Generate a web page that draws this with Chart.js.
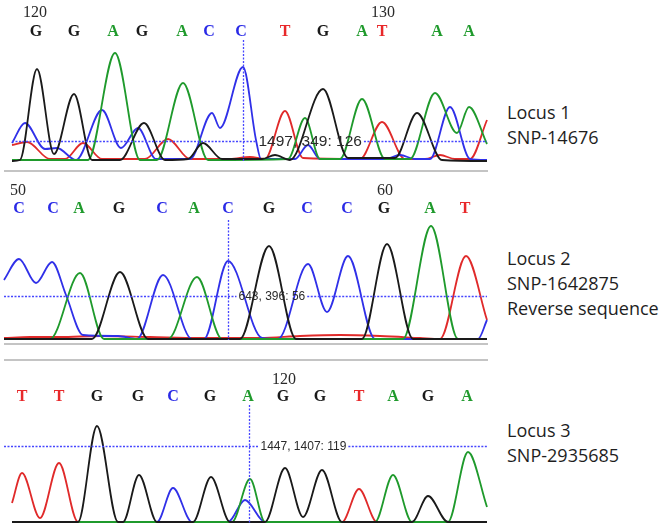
<!DOCTYPE html>
<html><head><meta charset="utf-8">
<script src="https://cdn.jsdelivr.net/npm/chart.js@4/dist/chart.umd.min.js"></script>
<style>
html,body{margin:0;padding:0;background:#fff;}
body{width:661px;height:526px;position:relative;overflow:hidden;}
.pane{position:absolute;left:0;width:490px;}
.sep{position:absolute;left:4px;width:484px;height:2px;background:#c4c4c4;}
.lbl{position:absolute;left:507px;font-family:"Open Sans",sans-serif;font-size:18px;line-height:25px;color:#1e1e1e;white-space:nowrap;}
</style></head>
<body>
<div class="sep" style="top:170px"></div>
<div class="sep" style="top:343px"></div>
<div class="sep" style="top:359px"></div>
<div class="pane" style="top:0;height:170px"><canvas id="c1"></canvas></div>
<div class="pane" style="top:170px;height:178px"><canvas id="c2"></canvas></div>
<div class="pane" style="top:350px;height:176px"><canvas id="c3"></canvas></div>
<div class="lbl" style="top:100px">Locus 1<br>SNP-14676</div>
<div class="lbl" style="top:246px">Locus 2<br>SNP-1642875<br>Reverse sequence</div>
<div class="lbl" style="top:418px">Locus 3<br>SNP-2935685</div>
<script>
// ---------- Locus 1 ----------
const p1Bases = ['G','G','A','G','A','C','C','T','G','A','T','A','A'];
const p1BasePos = [36,74,113,142,182,209,241,285,323,362,382,437,469];
const p1Numbers = ['120','130'];
const p1NumberPos = [35,383];
const p1Black = [[12,1],[20,2],[37,93],[54,8],[74,68],[92,2],[120,2],[144,39],[165,2],[188,3],[203,19],[222,3],[262,3],[275,7],[290,2],[323,73],[348,4],[395,4],[417,49],[442,2],[487,1]];
const p1Green = [[12,2],[88,2],[115,109],[140,2],[157,2],[183,79],[208,2],[288,3],[305,44],[320,3],[340,3],[362,63],[385,3],[410,3],[435,69],[457,29],[469,55],[487,18]];
const p1Blue = [[12,19],[25,39],[45,13],[57,14],[76,2],[102,52],[121,14],[138,34],[156,3],[190,3],[212,49],[220,34],[243,95],[256,22],[261,3],[295,3],[308,17],[320,3],[385,3],[400,7],[415,3],[430,3],[450,55],[470,3],[487,2]];
const p1Red = [[12,17],[27,20],[50,3],[65,3],[83,19],[102,3],[145,3],[168,23],[190,3],[230,3],[250,5],[265,3],[285,51],[303,4],[360,3],[382,40],[405,3],[425,3],[440,7],[455,3],[470,3],[487,42]];
const p1Cursor = {x:243, y:21, text:'1497, 349: 126'};

// ---------- Locus 2 ----------
const p2Bases = ['C','C','A','G','C','A','C','G','C','C','G','A','T'];
const p2BasePos = [19,53,79,119,162,194,228,269,307,347,384,430,465];
const p2Numbers = ['50','60'];
const p2NumberPos = [18,385];
const p2Black = [[4,1],[92,1],[120,68],[148,1],[240,1],[269,94],[296,1],[362,1],[387,96],[413,1],[487,1]];
const p2Green = [[4,1],[50,1],[80,67],[104,1],[168,1],[197,63],[222,1],[403,1],[431,114],[458,1],[487,1]];
const p2Blue = [[4,60],[19,81],[36,57],[52,78],[66,45],[83,5],[118,4],[137,1],[163,65],[192,1],[204,1],[228,79],[262,2],[278,1],[308,76],[327,28],[348,84],[375,1],[478,1],[487,20]];
const p2Red = [[4,2],[30,3],[60,3],[100,4],[150,3],[200,2],[260,2],[300,4],[340,5],[380,4],[420,2],[440,1],[466,84],[487,20]];
const p2Cursor = {x:228, y:44, text:'643, 396: 56'};

// ---------- Locus 3 ----------
const p3Bases = ['T','T','G','G','C','G','A','G','G','T','A','G','A'];
const p3BasePos = [22,59,97,138,173,210,248,283,320,359,393,428,467];
const p3Numbers = ['120'];
const p3NumberPos = [284];
const p3Black = [[12,1],[78,1],[97,97],[118,1],[123,1],[139,48],[157,1],[193,1],[211,46],[230,1],[265,1],[285,55],[303,6],[322,53],[342,1],[412,1],[428,27],[448,1],[487,1]];
const p3Green = [[12,1],[232,1],[250,44],[265,1],[375,1],[393,48],[412,1],[448,1],[468,71],[487,16]];
const p3Blue = [[12,1],[157,1],[173,35],[192,1],[228,1],[245,23],[265,1],[487,1]];
const p3Red = [[12,20],[22,50],[40,5],[59,60],[78,1],[342,1],[359,34],[377,1],[487,1]];
const p3Cursor = {x:249, y:77, text:'1447, 1407: 119'};

const COLORS = {A:'#1f9a2c', C:'#2a2ae6', G:'#1a1a1a', T:'#e8282a'};
const TRACE = {G:'#1a1a1a', A:'#1f9a2c', C:'#3030e8', T:'#e02a2a'};

const seqPlugin = {
  id:'seq',
  afterDatasetsDraw(chart, args, o){
    const ctx = chart.ctx, xs = chart.scales.x, ys = chart.scales.y;
    ctx.save();
    ctx.font = '16px "Liberation Serif", serif';
    ctx.fillStyle = '#2a2a2a'; ctx.textAlign='center'; ctx.textBaseline='middle';
    o.numbers.forEach((t,i)=>ctx.fillText(t, xs.getPixelForValue(o.numberPos[i]), o.numY));
    ctx.font = 'bold 16px "Liberation Serif", serif';
    o.bases.forEach((b,i)=>{ctx.fillStyle = COLORS[b]; ctx.fillText(b, xs.getPixelForValue(o.basePos[i]), o.baseY);});
    const cx = Math.round(xs.getPixelForValue(o.cursor.x)) + 0.5;
    const cy = Math.round(ys.getPixelForValue(o.cursor.y)) + 0.5;
    ctx.font = o.labelFont;
    const tw = ctx.measureText(o.cursor.text).width;
    const lx = cx + o.labelOff;
    ctx.strokeStyle = '#4646ff'; ctx.lineWidth = 1.3; ctx.setLineDash([2,1.5]);
    ctx.beginPath();
    ctx.moveTo(cx, o.vTop); ctx.lineTo(cx, ys.getPixelForValue(0));
    ctx.moveTo(xs.getPixelForValue(o.hStart), cy); ctx.lineTo(lx-2, cy);
    ctx.moveTo(lx+tw+2, cy); ctx.lineTo(xs.getPixelForValue(487), cy);
    ctx.stroke();
    ctx.setLineDash([]);
    ctx.fillStyle = '#2b2b2b'; ctx.textAlign='left'; ctx.textBaseline='middle';
    ctx.fillText(o.cursor.text, lx, cy);
    ctx.restore();
  }
};

function ds(pts, color){
  return {data: pts.map(p=>({x:p[0], y:p[1]})), borderColor: color, borderWidth: 1.8,
    pointRadius: 0, cubicInterpolationMode: 'monotone', fill: false, clip: false};
}

function makeChart(id, traces, ymax, padBottom, seq){
  return new Chart(document.getElementById(id), {
    type: 'line',
    data: {datasets: [ds(traces.G, TRACE.G), ds(traces.A, TRACE.A), ds(traces.C, TRACE.C), ds(traces.T, TRACE.T)]},
    options: {
      responsive: true, maintainAspectRatio: false, animation: false, events: [],
      layout: {padding: {left:0, right:0, top:0, bottom: padBottom}},
      scales: {
        x: {type:'linear', min:0, max:490, display:false},
        y: {type:'linear', min:0, max:ymax, display:false}
      },
      plugins: {legend:{display:false}, tooltip:{enabled:false}, seq: seq}
    },
    plugins: [seqPlugin]
  });
}

makeChart('c1', {G:p1Black, A:p1Green, C:p1Blue, T:p1Red}, 162, 8,
  {bases:p1Bases, basePos:p1BasePos, numbers:p1Numbers, numberPos:p1NumberPos, baseY:32, numY:13,
   cursor:p1Cursor, vTop:40, hStart:12, labelOff:15, labelFont:'15.5px "Liberation Sans", sans-serif'});
makeChart('c2', {G:p2Black, A:p2Green, C:p2Blue, T:p2Red}, 170, 8,
  {bases:p2Bases, basePos:p2BasePos, numbers:p2Numbers, numberPos:p2NumberPos, baseY:39, numY:21,
   cursor:p2Cursor, vTop:50, hStart:4, labelOff:10, labelFont:'12px "Liberation Sans", sans-serif'});
makeChart('c3', {G:p3Black, A:p3Green, C:p3Blue, T:p3Red}, 173, 3,
  {bases:p3Bases, basePos:p3BasePos, numbers:p3Numbers, numberPos:p3NumberPos, baseY:47, numY:30,
   cursor:p3Cursor, vTop:55, hStart:4, labelOff:11, labelFont:'12px "Liberation Sans", sans-serif'});
</script>
</body></html>
